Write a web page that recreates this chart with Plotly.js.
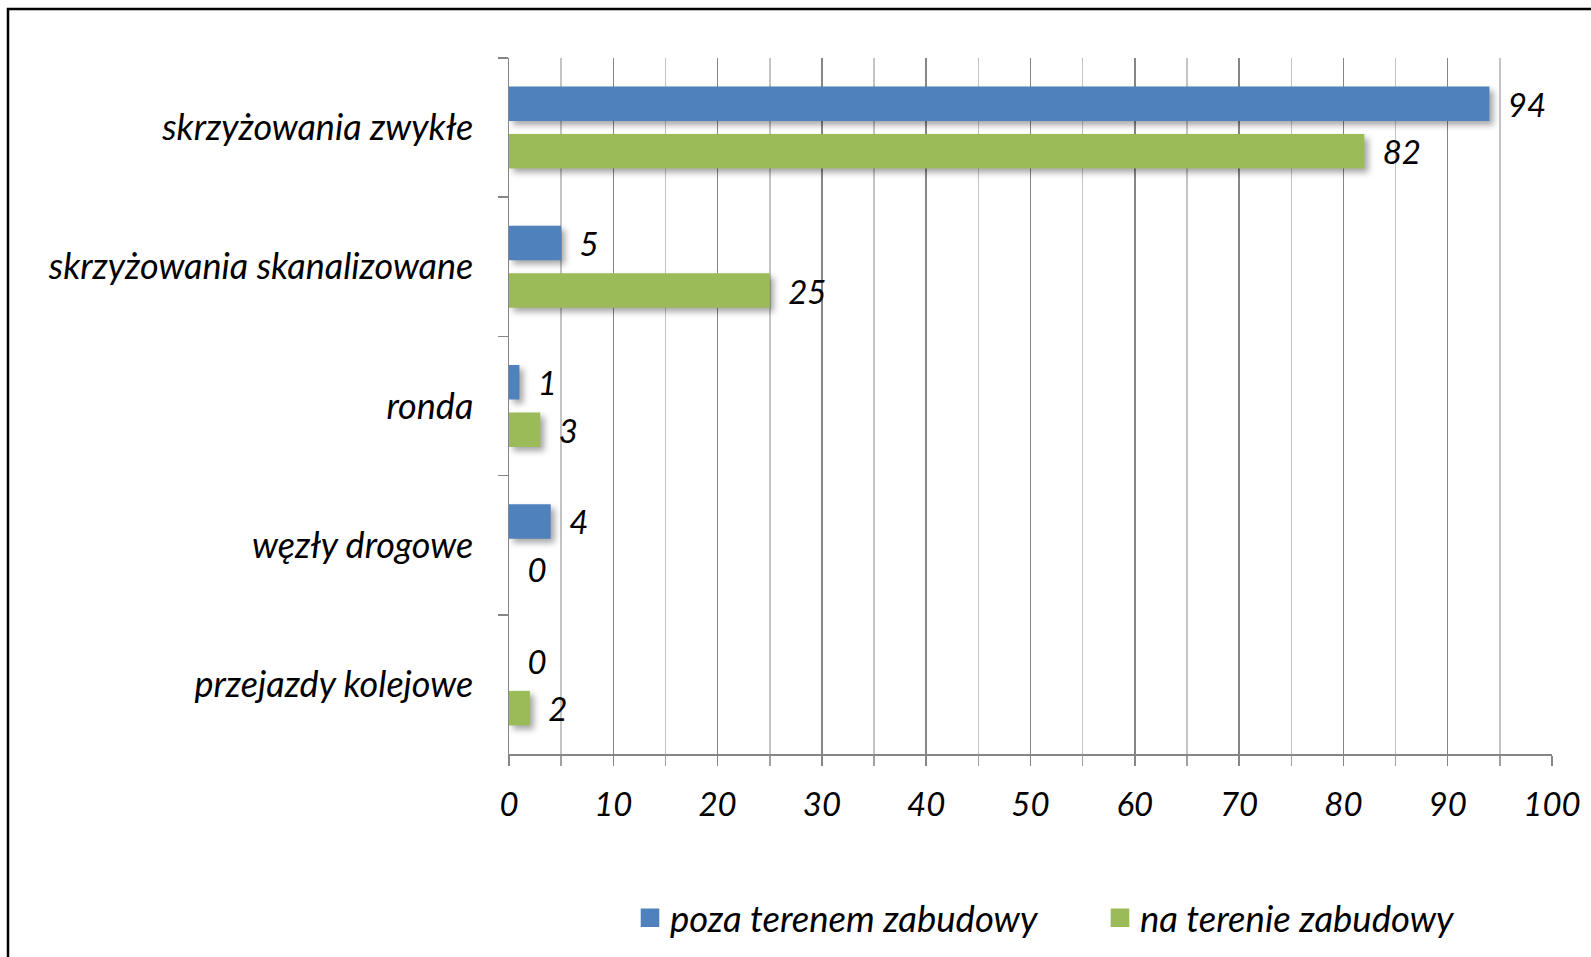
<!DOCTYPE html>
<html>
<head>
<meta charset="utf-8">
<script src="https://cdn.plot.ly/plotly-3.0.1.min.js"></script>
<style>
  html, body { margin: 0; padding: 0; background: #ffffff; }
  #chart { width: 1591px; height: 957px; }
  .barlayer .bars path { filter: drop-shadow(4px 4px 3px rgba(0,0,0,0.35)); }
  .legend .legendpoints path { transform: translate(20px, 0px) scale(1.55); }
</style>
</head>
<body>
<div id="chart"></div>
<script>
const categories = ["skrzyżowania zwykłe", "skrzyżowania skanalizowane", "ronda", "węzły drogowe", "przejazdy kolejowe"];
const seriesNames = ["poza terenem zabudowy", "na terenie zabudowy"];
const pozaValues = [94, 5, 1, 4, 0];
const naValues = [82, 25, 3, 0, 2];
const xTickValues = [0, 10, 20, 30, 40, 50, 60, 70, 80, 90, 100];

const W = 1591, H = 957;
const L = 509, R = 39, T = 58, B = 203;
const pw = W - L - R, ph = H - T - B;
const FONT = "Lato, 'Open Sans', sans-serif";
function f(size) { return { family: FONT, size: size, color: "#000000", style: "italic" }; }

function bar(name, vals, color) {
  return {
    type: "bar",
    orientation: "h",
    name: name,
    y: categories,
    x: vals,
    marker: { color: color, line: { width: 0 } },
    text: vals.map(String),
    texttemplate: "\u00a0\u00a0%{x}",
    textposition: "outside",
    constraintext: "none",
    textfont: f(33),
    cliponaxis: false,
    hoverinfo: "none"
  };
}

const data = [
  bar(seriesNames[0], pozaValues, "#4F81BD"),
  bar(seriesNames[1], naValues, "#9BBB59")
];

const layout = {
  width: W, height: H,
  margin: { l: L, r: R, t: T, b: B, pad: 0, autoexpand: false },
  paper_bgcolor: "#ffffff",
  plot_bgcolor: "#ffffff",
  barmode: "group",
  bargap: 0.317,
  bargroupgap: 0.274,
  showlegend: true,
  legend: {
    orientation: "h",
    xref: "container", yref: "container",
    x: 630 / W, xanchor: "left",
    y: 1 - 918 / H, yanchor: "middle",
    font: f(36.5),
    traceorder: "normal",
    itemwidth: 30,
    entrywidth: 425,
    entrywidthmode: "pixels"
  },
  xaxis: {
    range: [0, 100],
    tickvals: xTickValues,
    ticktext: xTickValues.map(String),
    showgrid: true,
    gridcolor: "#868686",
    gridwidth: 1.5,
    showline: true,
    linecolor: "#868686",
    linewidth: 1.5,
    ticks: "outside",
    ticklen: 10,
    tickwidth: 1.5,
    tickcolor: "#868686",
    ticklabelstandoff: 11,
    tickfont: f(33),
    zeroline: false,
    fixedrange: true,
    minor: {
      dtick: 5,
      showgrid: true,
      gridcolor: "#c4c4c4",
      gridwidth: 1.5,
      ticks: "outside",
      ticklen: 10,
      tickcolor: "#a0a0a0",
      tickwidth: 1.5
    }
  },
  yaxis: {
    autorange: "reversed",
    type: "category",
    showline: true,
    linecolor: "#868686",
    linewidth: 1.5,
    ticks: "outside",
    tickson: "boundaries",
    ticklen: 10,
    tickwidth: 1.5,
    tickcolor: "#868686",
    ticklabelstandoff: 27,
    tickfont: f(36),
    showgrid: false,
    zeroline: false,
    fixedrange: true
  },
  shapes: [{
    type: "rect",
    xref: "paper", yref: "paper",
    x0: (8 - L) / pw, x1: (W + 20 - L) / pw,
    y0: (H - B - (H + 20)) / ph, y1: (H - B - 9) / ph,
    line: { color: "#000000", width: 2.5 },
    fillcolor: "rgba(0,0,0,0)",
    layer: "above"
  }]
};

Plotly.newPlot("chart", data, layout, { displayModeBar: false, staticPlot: true });
</script>
</body>
</html>
